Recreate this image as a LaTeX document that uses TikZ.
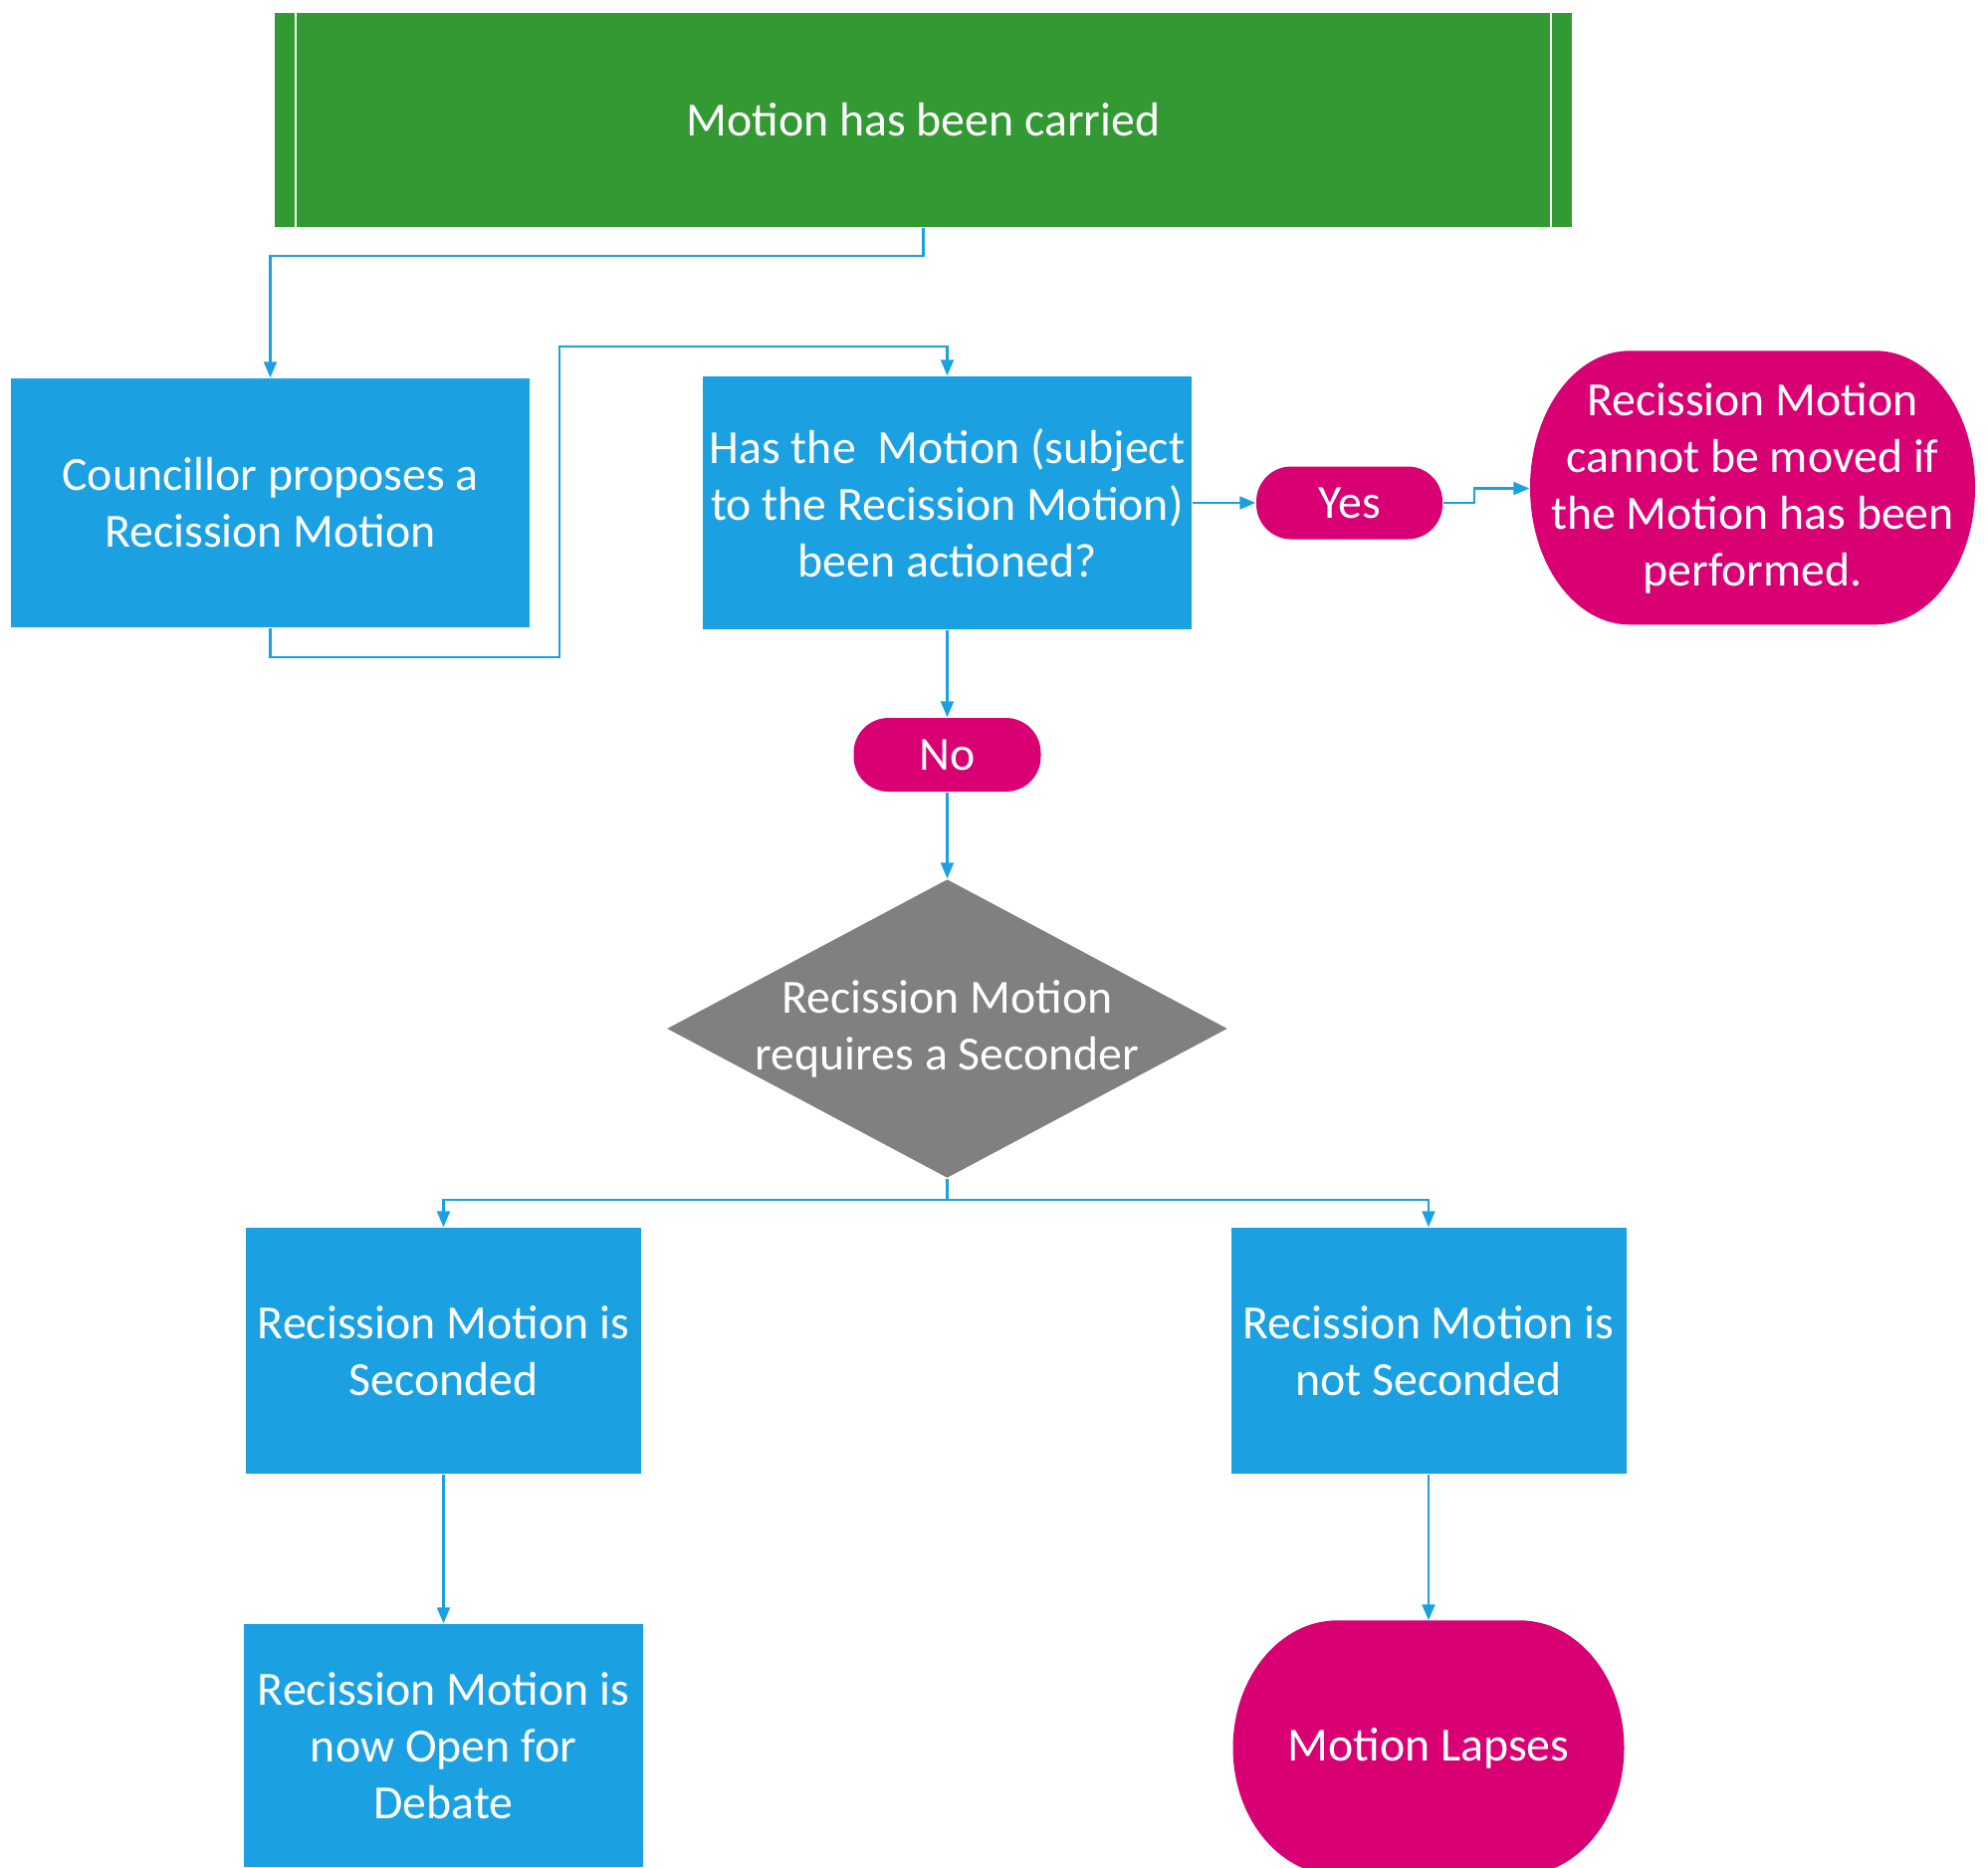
\documentclass[tikz,border=0pt]{standalone}
\usepackage{fontspec}
\setmainfont{Carlito}
\usetikzlibrary{arrows.meta,shapes.geometric,backgrounds}
\definecolor{mcblue}{HTML}{1BA1E2}
\definecolor{mcgreen}{HTML}{339933}
\definecolor{mcpink}{HTML}{D80073}
\definecolor{mcgrey}{HTML}{808080}
\newcommand{\mcfont}{\fontsize{13.6}{16.2}\selectfont}
\tikzset{
  mcbox/.style={fill=mcblue, text=white, align=center, font=\mcfont, inner sep=1pt},
  mcstart/.style={fill=mcgreen, text=white, align=center, font=\mcfont, inner sep=1pt},
  mcpill/.style={fill=mcpink, text=white, align=center, font=\mcfont, rounded corners=3.5mm,
                 minimum width=1.87cm, minimum height=0.73cm, inner sep=1pt},
  mcend/.style={text=white, align=center, font=\mcfont, inner sep=1pt},
  mcarrow/.style={-{Triangle[length=1.6mm,width=1.3mm]}, line width=0.6pt, draw=mcblue},
}

\begin{document}
\begin{tikzpicture}[
    box/.style={mcbox, minimum width=3.97cm, minimum height=2.47cm}
  ]
  \useasboundingbox (0,0) rectangle (19.97,-18.75);
  \node[mcstart, minimum width=13.03cm, minimum height=2.15cm] (carried) at (9.275,-1.205) {Motion has been carried};
  \draw[white, line width=0.5pt] ([xshift=2.2mm]carried.north west) -- ([xshift=2.2mm]carried.south west);
  \draw[white, line width=0.5pt] ([xshift=-2.2mm]carried.north east) -- ([xshift=-2.2mm]carried.south east);
  \node[mcbox, minimum width=5.21cm, minimum height=2.5cm] (councillor) at (2.715,-5.05) {Councillor proposes a\\Recission Motion};
  \node[mcbox, minimum width=4.91cm, minimum height=2.54cm] (actioned) at (9.515,-5.05) {Has the~ Motion (subject\\to the Recission Motion)\\been actioned?};
  \node[mcpill] (yes) at (13.555,-5.05) {Yes};
  \node[mcend, minimum width=4.47cm, minimum height=2.75cm] (cannot) at (17.605,-4.905) {Recission Motion\\cannot be moved if\\the Motion has been\\performed.};
  \node[mcpill, minimum width=1.88cm, minimum height=0.74cm] (no) at (9.515,-7.58) {No};
  \node[diamond, fill=mcgrey, minimum width=5.63cm, minimum height=3cm, inner sep=0pt,
        label={[text=white, align=center, font=\mcfont]center:{Recission Motion\\requires a Seconder}}] (seconder) at (9.515,-10.33) {};
  \node[box] (seconded) at (4.455,-13.565) {Recission Motion is\\Seconded};
  \node[box] (notseconded) at (14.35,-13.565) {Recission Motion is\\not Seconded};
  \node[box, minimum width=4.01cm, minimum height=2.44cm] (debate) at (4.455,-17.53) {Recission Motion is\\now Open for\\Debate};
  \node[mcend, minimum width=3.93cm, minimum height=2.56cm] (lapses) at (14.35,-17.56) {Motion Lapses};
  \begin{scope}[on background layer]
    \fill[mcpink] (cannot.north) -- ++(1.235,0) arc[start angle=90, end angle=-90, x radius=1, y radius=1.375]
      -- ++(-2.47,0) arc[start angle=270, end angle=90, x radius=1, y radius=1.375] -- cycle;
    \fill[mcpink] (lapses.north) -- ++(0.915,0) arc[start angle=90, end angle=-90, x radius=1.05, y radius=1.28]
      -- ++(-1.83,0) arc[start angle=270, end angle=90, x radius=1.05, y radius=1.28] -- cycle;
  \end{scope}
  \coordinate (loopdown) at (5.62,-6.6);
  \coordinate (loopup) at (5.62,-3.48);
  \draw[mcarrow] (carried.south) -- ++(0,-0.28) -| (councillor.north);
  \draw[mcarrow] (councillor.south) |- (loopdown) -- (loopup) -| (actioned.north);
  \draw[mcarrow] (actioned.east) -- (yes.west);
  \draw[mcarrow] (yes.east) -- ++(0.31,0) |- (cannot.west);
  \draw[mcarrow] (actioned.south) -- (no.north);
  \draw[mcarrow] (no.south) -- (seconder.north);
  \draw[mcarrow] (seconder.south) -- ++(0,-0.21) -| (seconded.north);
  \draw[mcarrow] (seconder.south) -- ++(0,-0.21) -| (notseconded.north);
  \draw[mcarrow] (seconded.south) -- (debate.north);
  \draw[mcarrow] (notseconded.south) -- (lapses.north);
\end{tikzpicture}
\end{document}
